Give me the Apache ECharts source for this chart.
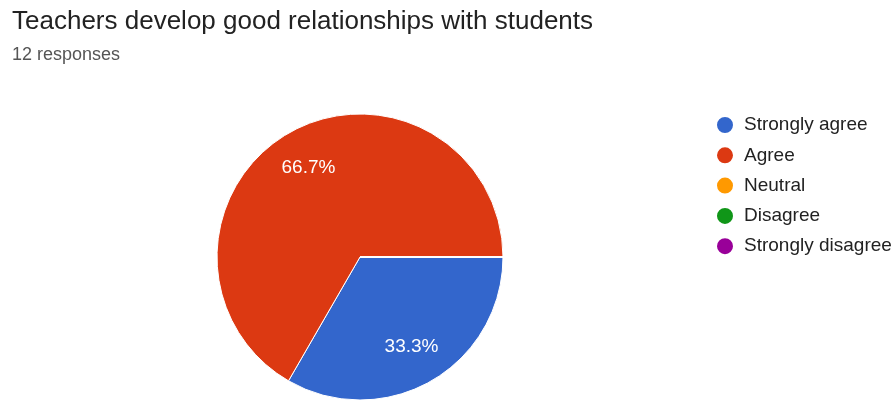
<!DOCTYPE html>
<html>
<head>
<meta charset="utf-8">
<script src="https://cdn.jsdelivr.net/npm/echarts@6/dist/echarts.min.js"></script>
<style>
  html, body { margin: 0; padding: 0; background: #fff; }
  #chart { width: 893px; height: 402px; }
</style>
</head>
<body>
<div id="chart"></div>
<script>
const titleText = 'Teachers develop good relationships with students';
const subtitleText = '12 responses';
const categories = ['Strongly agree', 'Agree', 'Neutral', 'Disagree', 'Strongly disagree'];
const counts = [4, 8, 0, 0, 0];
const colors = ['#3366cc', '#dc3912', '#ff9900', '#109618', '#990099'];

const total = counts.reduce((a, b) => a + b, 0);
const pieData = categories.map((name, i) => ({ name: name, value: counts[i] }));

const R = 143;
const center = [360, 257];
const font = '"Liberation Sans", Arial, sans-serif';

const myChart = echarts.init(document.getElementById('chart'));

const option = {
    animation: false,
    color: colors,
    title: {
        text: titleText,
        subtext: subtitleText,
        left: 7,
        top: 4,
        itemGap: 11,
        textStyle: { fontFamily: font, fontSize: 26, fontWeight: 'normal', color: '#222' },
        subtextStyle: { fontFamily: font, fontSize: 18, color: '#555' }
    },
    legend: {
        orient: 'vertical',
        left: 710,
        top: 110,
        icon: 'circle',
        itemWidth: 28,
        itemHeight: 18,
        itemGap: 10.3,
        data: categories,
        textStyle: { fontFamily: font, fontSize: 19, color: '#222' }
    },
    series: [
        {
            // slices
            type: 'pie',
            center: center,
            radius: [0, R],
            startAngle: 0,
            clockwise: true,
            avoidLabelOverlap: false,
            data: pieData,
            label: { show: false },
            labelLine: { show: false },
            itemStyle: { borderColor: '#fff', borderWidth: 1 },
            emphasis: { disabled: true }
        },
        {
            // percentage labels, drawn at ~0.70 of radius
            type: 'pie',
            center: center,
            radius: [R * 0.40, R],
            startAngle: 0,
            clockwise: true,
            silent: true,
            avoidLabelOverlap: false,
            data: pieData,
            itemStyle: { color: 'transparent', borderWidth: 0 },
            label: {
                show: true,
                position: 'inside',
                fontFamily: font,
                fontSize: 19,
                color: '#fff',
                formatter: function (p) {
                    if (!p.value) return '';
                    return (p.value / total * 100).toFixed(1) + '%';
                }
            },
            labelLine: { show: false },
            emphasis: { disabled: true }
        }
    ]
};
myChart.setOption(option);
</script>
</body>
</html>
